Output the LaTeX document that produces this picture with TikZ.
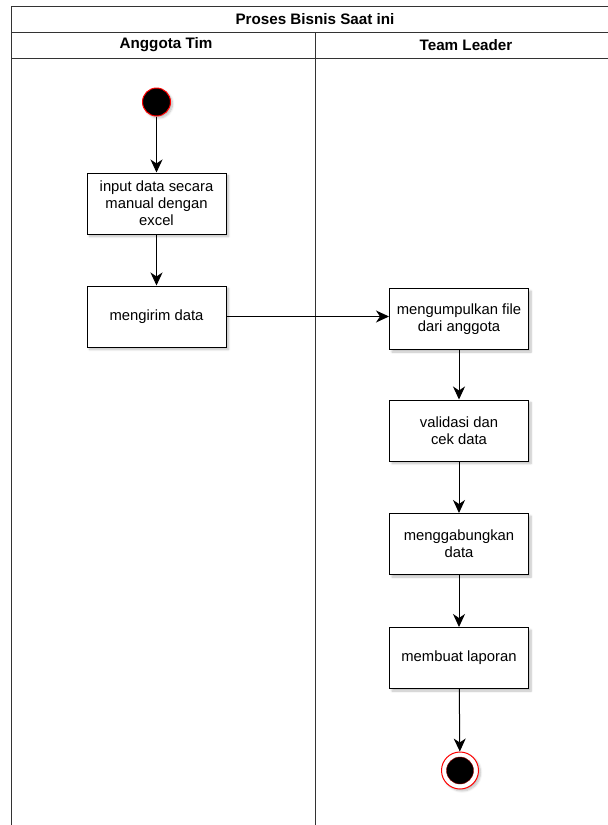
\documentclass[tikz,border=0pt]{standalone}
\usepackage{fontspec}
\setmainfont{Liberation Sans}
\usetikzlibrary{arrows.meta,shadows.blur}
\begin{document}
\begin{tikzpicture}[x=1pt,y=-1pt,
  frameline/.style={draw=black!80, line width=1pt},
  hdr/.style={font=\fontsize{15.2}{17}\selectfont\bfseries, anchor=center, inner sep=0pt},
  actbox/.style={draw=black, line width=1pt, fill=white, minimum width=139pt, minimum height=61pt,
     align=center, inner sep=2pt, font=\fontsize{14.8}{16.8}\selectfont,
     blur shadow={shadow xshift=2.5pt, shadow yshift=-2.5pt, shadow blur steps=6, shadow opacity=25}},
  startnode/.style={circle, draw=red, line width=1pt, fill=black, minimum size=28pt, inner sep=0pt,
     blur shadow={shadow xshift=2pt, shadow yshift=-2pt, shadow blur steps=6, shadow opacity=25}},
  endouter/.style={circle, draw=red, line width=1pt, fill=white, minimum size=37pt, inner sep=0pt,
     blur shadow={shadow xshift=2pt, shadow yshift=-2pt, shadow blur steps=6, shadow opacity=25}},
  endinner/.style={circle, draw=red!60!black, line width=0.4pt, fill=black, minimum size=27pt, inner sep=0pt},
  flow/.style={draw=black, line width=1pt, -{Stealth[length=13pt,width=12pt,inset=4pt]}}
]
\useasboundingbox (0,0) rectangle (608,825);
\begin{scope}
\clip (0,0) rectangle (608,825);
% pool frame
\draw[frameline] (11,830) -- (11,6) -- (625,6);
\draw[frameline] (11,32) -- (625,32);
\draw[frameline] (11,58) -- (625,58);
\draw[frameline] (315,32) -- (315,830);
\end{scope}
\node[hdr] (title) at (315,19) {Proses Bisnis Saat ini};
\node[hdr] (laneA) at (166,45) {Anggota Tim};
\node[hdr] (laneB) at (466,45) {Team Leader};

\node[startnode] (start) at (156.5,102) {};
\node[actbox] (input) at (156.5,203.5) {input data secara\\manual dengan\\excel};
\node[actbox] (kirim) at (156.5,316.5) {mengirim data};
\node[actbox] (kumpul) at (459,319) {mengumpulkan file\\dari anggota};
\node[actbox] (valid) at (459,430.5) {validasi dan\\cek data};
\node[actbox] (gabung) at (459,544) {menggabungkan\\data};
\node[actbox] (lapor) at (459,658) {membuat laporan};
\node[endouter] (endo) at (460,770.5) {};
\node[endinner] (endi) at (460,770.5) {};

\draw[flow] (start) -- (input);
\draw[flow] (input) -- (kirim);
\draw[flow] (kirim.east) -- (kumpul.west |- kirim.east);
\draw[flow] (kumpul) -- (valid);
\draw[flow] (valid) -- (gabung);
\draw[flow] (gabung) -- (lapor);
\draw[flow] (lapor) -- (endo);
\end{tikzpicture}
\end{document}
